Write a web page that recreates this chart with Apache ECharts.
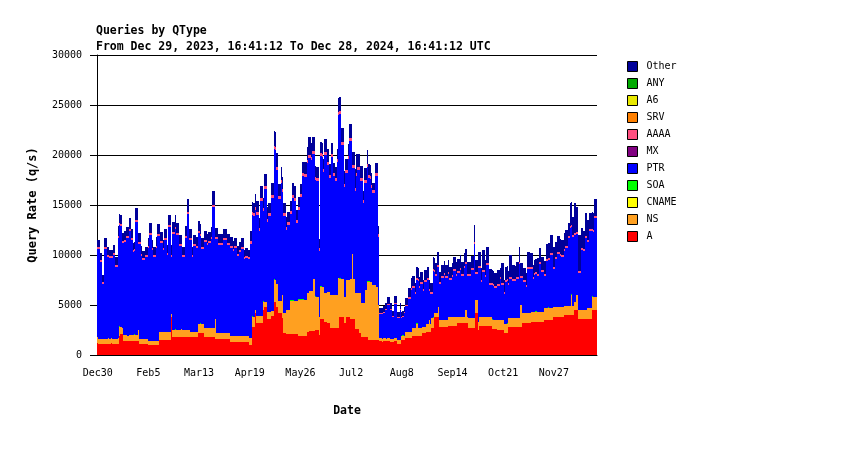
<!DOCTYPE html>
<html>
<head>
<meta charset="utf-8">
<title>Queries by QType</title>
<script src="https://cdn.jsdelivr.net/npm/echarts@6/dist/echarts.min.js"></script>
<style>
  html, body { margin: 0; padding: 0; background: #fff; }
  #chart { width: 850px; height: 450px; }
</style>
</head>
<body>
<div id="chart"></div>
<script>
  // one bar per day, Dec 30 2023 .. Dec 28 2024
  var startDay = Date.UTC(2023, 11, 30);
  var dayCount = 365;
  var tickEvery = 37;

  // query rate per day (q/s)
  var aData = [
    1200,1100,1100,1100,1100,1100,1100,1100,1100,1100,
    1200,1100,1100,1100,1100,1100,1900,2100,2100,1400,
    1400,1400,1400,1400,1400,1400,1400,1400,1400,1400,
    1400,1100,1100,1100,1100,1100,1100,1000,1000,1000,
    1000,1000,1000,1000,1000,1500,1500,1500,1500,1500,
    1500,1500,1500,1500,3800,1800,1800,1800,1800,1800,
    1800,1800,1800,1800,1800,1800,1800,1800,1800,1800,
    1800,1800,1800,1800,2200,2200,2200,2200,1800,1800,
    1800,1800,1800,1800,1800,1800,1600,1600,1600,1600,
    1600,1600,1600,1600,1600,1600,1600,1300,1300,1300,
    1300,1300,1300,1300,1300,1300,1300,1300,1300,1300,
    1300,1000,1000,2800,2800,4200,3200,3200,3200,3200,
    3200,4500,4800,4800,3600,3600,3600,3900,3900,5300,
    5300,4800,4200,4200,4200,3700,2200,2200,2100,2100,
    2100,2100,2100,2100,2100,2100,2100,1900,1900,1900,
    1900,1900,1900,2300,2300,2400,2400,2400,2400,2500,
    2500,2500,2000,3600,3600,3600,3300,3300,3200,3200,
    2700,2700,2700,2700,2700,2700,2700,3800,3800,3800,
    3200,3200,3800,3800,3800,3600,3600,3600,2600,2600,
    2600,2200,2200,1800,1800,1800,1800,1800,1500,1500,
    1500,1500,1500,1500,1500,1500,1400,1400,1300,1400,
    1400,1400,1400,1400,1300,1300,1300,1400,1400,1100,
    1100,1100,1500,1500,1500,1700,1700,1700,1700,1700,
    1900,1900,1900,1900,1900,1900,1900,2200,2200,2200,
    2300,2300,2300,2300,2700,2700,3800,3800,3800,3800,
    2800,2800,2800,2800,2800,2800,2900,2900,2900,2900,
    2900,2900,2900,3200,3200,3200,3200,3200,3200,3200,
    3200,2700,2700,2700,2700,2700,4200,4200,2500,2900,
    2900,2900,2900,2900,2900,2900,2900,2900,2600,2600,
    2600,2600,2500,2500,2500,2500,2500,2200,2200,2200,
    2800,2800,2800,2800,2800,2800,2800,2800,2800,2800,
    3200,3200,3200,3200,3200,3200,3200,3300,3300,3300,
    3300,3300,3300,3300,3300,3300,3500,3500,3500,3500,
    3500,3500,3500,3800,3800,3800,3800,3800,3800,3800,
    3800,4000,4000,4000,4000,4000,4000,4000,4500,4500,
    4500,3600,3600,3600,3600,3600,3600,3600,3600,3600,
    3600,4500,4500,4500,4500
  ];
  var nsData = [
    600,500,500,500,500,500,500,500,600,500,
    500,500,500,500,500,600,900,700,600,600,
    600,600,500,600,600,600,600,600,600,600,
    1100,500,500,500,500,500,500,400,400,400,
    400,400,400,400,400,800,800,800,800,800,
    800,800,800,800,300,700,700,700,700,700,
    700,800,700,700,700,700,700,700,500,500,
    500,500,500,500,900,900,900,900,900,900,
    900,900,900,900,900,900,2000,600,600,600,
    600,600,600,600,600,600,600,600,600,600,
    600,600,600,600,600,600,600,600,600,600,
    600,700,700,1000,1000,300,700,700,700,700,
    700,800,500,500,700,700,700,500,500,2200,
    2200,2300,1200,1200,1200,2300,2000,2000,2400,2400,
    2400,3300,3300,3300,3300,3300,3300,3600,3600,3600,
    3600,3600,3600,3900,3900,4000,4000,4000,5200,3300,
    3300,3300,1800,3200,3200,3200,2900,2900,3100,3100,
    3300,3300,3300,3300,3300,3300,5000,3800,3800,3800,
    2600,2600,3700,3700,3700,4000,6500,4000,3600,3600,
    3600,4000,4000,3400,3400,3400,4700,5500,5800,5800,
    5800,5500,5500,5500,5300,3500,300,300,300,300,
    300,200,300,300,300,300,300,300,300,400,
    400,400,400,400,400,600,600,600,600,600,
    800,800,800,1200,800,800,800,600,600,600,
    800,800,1200,800,1000,1000,400,400,400,1000,
    700,700,700,700,700,700,900,900,900,900,
    900,900,900,600,600,600,600,600,600,1300,
    600,1000,1000,1000,1000,1000,1300,1300,800,900,
    900,900,900,900,900,900,900,900,900,900,
    900,900,1000,1000,1000,1000,1000,900,900,900,
    900,900,900,900,900,900,900,900,900,2200,
    1000,1000,1000,1000,1000,1000,1000,1000,1000,1000,
    1000,1000,1000,1000,1000,1000,1200,1200,1200,1200,
    1200,1200,1200,1000,1000,1000,1000,1000,1000,1000,
    1000,900,900,900,900,900,2000,900,800,800,
    1500,900,900,900,900,900,900,900,1100,1100,
    1100,1300,1300,1300,1300
  ];
  var soaData = [
    0,0,0,0,0,0,0,0,0,0,
    0,0,0,0,0,0,100,0,0,0,
    0,0,0,0,0,0,0,100,0,0,
    0,0,0,0,0,0,0,0,0,0,
    0,0,0,0,0,0,0,0,0,0,
    0,0,0,0,0,0,0,100,0,0,
    0,0,0,0,0,0,0,0,0,0,
    0,0,0,0,0,100,0,0,0,0,
    0,0,0,0,0,0,0,0,0,0,
    0,0,0,0,0,0,0,0,0,0,
    0,0,0,0,0,0,0,0,0,0,
    0,0,0,100,0,0,0,0,0,0,
    0,100,0,0,0,0,0,0,0,100,
    0,0,0,0,0,0,0,0,0,0,
    0,100,100,100,0,0,0,100,100,100,
    100,0,0,0,0,0,0,0,0,100,
    0,0,0,100,0,0,0,0,0,0,
    0,0,0,0,0,0,0,100,0,0,
    0,0,0,0,0,0,0,0,0,0,
    0,0,0,0,0,0,0,100,100,0,
    0,0,0,0,0,0,0,0,0,0,
    0,0,0,0,0,0,0,0,0,0,
    0,0,0,100,0,0,0,0,0,0,
    0,0,0,100,0,0,0,0,0,0,
    0,0,0,0,0,100,0,0,0,0,
    0,0,0,0,0,0,0,0,0,0,
    0,0,0,0,0,0,0,0,0,0,
    0,0,0,0,0,0,0,0,0,0,
    0,0,0,0,0,0,0,0,100,0,
    0,0,0,0,0,0,0,0,0,100,
    0,0,0,0,0,0,0,0,0,0,
    0,0,0,0,0,0,0,0,0,0,
    100,0,0,0,0,0,0,0,0,100,
    0,0,0,0,0,0,0,0,0,0,
    0,0,0,0,0,0,100,0,0,0,
    0,0,0,0,0,0,0,0,0,0,
    0,100,0,0,0
  ];
  var ptrData = [
    8800,9000,7700,7700,5500,9000,9000,8200,8100,8100,
    8000,8100,8400,7200,7200,10000,10100,10100,8500,9200,
    9300,9700,9800,10400,10400,9500,8300,8300,11300,11300,
    8600,9500,8300,7900,7900,8200,8200,9300,10600,10600,
    9100,8400,8400,9300,10500,9600,8900,8900,8200,9200,
    9200,7700,10500,10500,5700,9600,9600,10000,9500,9500,
    8400,8300,7300,7300,9200,9200,11600,9000,9200,7500,
    8600,8600,8400,8400,9100,8700,7500,7500,8600,8600,
    8300,8500,8500,8900,12100,12100,8000,9400,8800,8800,
    8800,8800,9300,9300,9300,8800,8800,8800,8800,8500,
    8800,8800,8000,8000,8400,8700,8700,7700,7800,7800,
    7700,7900,9400,10100,10100,10000,10100,10100,8500,11500,
    11500,9000,11300,11300,9000,9600,9600,11300,11300,13000,
    13000,11400,10200,10200,11800,10300,9700,9700,8000,8500,
    8500,8600,10200,10200,10000,7800,7800,8900,10200,10200,
    12300,12300,12300,13000,13500,13300,13100,13700,12500,11600,
    11600,11600,6600,13000,13000,11500,13800,13800,12700,11400,
    11700,13800,11900,11900,11400,13300,16300,16400,13400,13400,
    11000,12400,10700,12100,13900,13800,8600,11100,10200,11700,
    12300,12300,11200,12200,10000,12000,10700,11400,10300,10300,
    9400,9200,9200,10900,11100,6800,2400,2400,2500,2500,
    2800,2900,3300,3300,2900,2200,2200,3400,3400,2200,
    2200,3000,1800,1800,2300,2600,2600,3300,3300,4200,
    4000,4000,3400,4300,4700,4000,4400,4300,3600,4500,
    4200,4400,2900,3000,2400,4600,4100,3700,4600,4000,
    3600,4200,4200,4500,4200,4200,4300,3700,3700,4000,
    4600,4600,4100,4400,4400,4700,4100,4100,4900,4600,
    4100,4200,4200,4800,4800,7400,2600,2600,5400,4900,
    3500,4500,4500,4000,5200,5200,3200,3200,3400,3400,
    3200,3200,3400,3400,4100,3500,3500,3000,4200,4200,
    3300,3900,3900,3700,3700,3700,3900,3900,5400,2700,
    3500,3100,3100,2600,4400,4400,4400,4300,3300,3700,
    3700,3600,3600,4800,4000,4000,3200,3200,4700,4700,
    4800,5300,5300,3800,4800,4800,5300,5300,5100,5000,
    5000,5500,5800,5800,6800,7800,6700,6900,6700,6700,
    6100,3700,3700,6000,6000,5900,7200,7200,6600,7700,
    7700,6500,6500,7900,7900
  ];
  var aaaaData = [
    200,200,200,200,200,200,200,200,200,200,
    200,200,200,200,200,200,200,200,200,200,
    200,200,200,200,200,200,200,200,200,200,
    200,200,200,200,200,200,200,200,200,200,
    200,200,200,200,200,200,200,200,200,200,
    200,200,200,200,200,200,200,200,200,200,
    200,200,200,200,200,200,200,200,200,200,
    200,200,200,200,200,200,200,200,200,200,
    200,200,200,200,200,200,200,200,200,200,
    200,200,200,200,200,200,200,200,200,200,
    200,200,200,200,200,200,200,200,200,200,
    200,200,300,300,300,300,300,300,300,300,
    300,300,300,300,300,300,300,300,300,300,
    300,300,300,300,300,300,300,300,300,300,
    300,300,300,300,300,300,300,300,300,300,
    300,300,300,300,300,300,300,300,300,300,
    300,300,300,300,300,300,300,300,300,300,
    300,300,300,300,300,300,300,300,300,300,
    300,300,300,300,300,300,300,300,300,300,
    300,300,300,300,300,300,300,300,300,300,
    300,300,300,300,300,300,100,100,100,100,
    100,100,100,100,100,100,100,100,100,100,
    100,100,100,100,100,100,100,200,200,200,
    200,200,200,200,200,200,200,200,200,200,
    200,200,200,200,200,200,200,200,200,200,
    200,200,200,200,200,200,200,200,200,200,
    200,200,200,200,200,200,200,200,200,200,
    200,200,200,200,200,200,200,200,200,200,
    200,200,200,200,200,200,200,200,200,200,
    200,200,200,200,200,200,200,200,200,200,
    200,200,200,200,200,200,200,200,200,200,
    200,200,200,200,200,200,200,200,200,200,
    200,200,200,200,200,200,200,200,200,200,
    200,200,200,200,200,200,200,200,200,200,
    200,200,200,200,200,200,200,200,200,200,
    200,200,200,200,200,200,200,200,200,200,
    200,200,200,200,200
  ];
  var otherData = [
    700,700,700,700,700,900,900,800,800,600,
    600,600,800,800,800,1000,900,900,800,800,
    900,900,900,1100,1100,900,700,700,1200,1200,
    900,900,800,700,700,800,800,800,1000,1000,
    800,800,800,900,1000,1000,900,900,800,900,
    900,800,1000,1000,1000,1000,1000,1200,1000,1000,
    900,900,800,800,1000,1000,1300,900,900,800,
    900,900,900,900,1000,1000,900,900,900,900,
    900,900,900,1000,1400,1400,900,900,900,900,
    900,900,900,900,900,900,900,900,900,800,
    800,800,800,800,800,900,900,700,800,800,
    700,700,1000,1000,1000,1300,1100,1100,1000,1200,
    1200,1000,1200,1200,1200,1000,1000,1200,1200,1500,
    1500,1400,1200,1200,1300,1200,1000,1000,1000,1000,
    1000,1000,1200,1200,1200,1000,1000,1000,1000,1000,
    1100,1200,1200,1300,1800,1800,1400,1400,1400,1100,
    1100,1100,900,1100,1100,1000,1300,1300,1300,1100,
    1100,1100,1000,1000,1100,1000,1400,1400,1400,1400,
    1300,1100,1100,1200,1400,1400,1300,1300,1900,1900,
    1300,1300,1200,1200,900,1200,1200,1400,1100,1100,
    1200,700,700,1000,1000,800,500,500,500,600,
    600,600,700,700,600,500,500,700,700,500,
    500,600,500,500,500,700,700,900,900,1000,
    1000,1000,900,1100,1100,900,1000,1000,900,1000,
    1000,1100,900,900,900,1200,1200,1100,1300,1300,
    1000,1100,1100,1200,1100,1100,1200,1100,1100,1200,
    1200,1200,1200,1200,1200,1300,1200,1200,1300,1300,
    1200,1200,1200,1200,1200,1700,1200,1200,1400,1400,
    1200,2000,2000,1500,1600,1600,1400,1400,1300,1300,
    1300,1300,1400,1400,900,2000,2000,1200,1300,1300,
    1200,2200,2200,1400,1400,1300,1500,1500,1500,1300,
    1300,1200,1200,1200,1500,1500,1400,1400,1200,1300,
    1300,1600,1600,1400,1300,1300,1300,1300,1500,1500,
    1500,1800,1800,2000,1500,1500,1600,1600,1500,1500,
    1500,1600,1600,1600,1300,2300,2300,1800,3000,3000,
    2500,3600,3600,2000,2000,1800,2300,2300,2000,1600,
    1600,1700,1700,1700,1700
  ];

  var monthNames = ['Jan','Feb','Mar','Apr','May','Jun','Jul','Aug','Sep','Oct','Nov','Dec'];
  var days = [];
  for (var i = 0; i < dayCount; i++) {
    var d = new Date(startDay + i * 86400000);
    days.push(monthNames[d.getUTCMonth()] + d.getUTCDate());
  }

  var mono = '"DejaVu Sans Mono", monospace';
  var showTick = function (index) { return index % tickEvery === 0; };

  // stacking order, bottom to top
  var layers = [
    { name: 'A', color: '#ff0000', data: aData },
    { name: 'NS', color: '#ffa020', data: nsData },
    { name: 'CNAME', color: '#ffff00', data: [] },
    { name: 'SOA', color: '#00ff00', data: soaData },
    { name: 'PTR', color: '#0000ff', data: ptrData },
    { name: 'MX', color: '#800080', data: [] },
    { name: 'AAAA', color: '#ff4f80', data: aaaaData },
    { name: 'SRV', color: '#ff8000', data: [] },
    { name: 'A6', color: '#e8e800', data: [] },
    { name: 'ANY', color: '#00aa00', data: [] },
    { name: 'Other', color: '#000099', data: otherData }
  ];

  // stacked bars drawn as pixel-snapped rects so neighbouring days leave no seams
  function stackedLayer(layer, base) {
    var rows = layer.data.map(function (v, i) { return [i, base[i], base[i] + v]; });
    return {
      name: layer.name,
      type: 'custom',
      data: rows,
      encode: { x: 0, y: [1, 2] },
      itemStyle: { color: layer.color },
      silent: true,
      renderItem: function (params, api) {
        var idx = api.value(0);
        var lo = api.coord([idx, api.value(1)]);
        var hi = api.coord([idx, api.value(2)]);
        var band = api.size([1, 0])[0];
        var x0 = Math.round(lo[0] - band / 2);
        var x1 = Math.round(lo[0] + band / 2);
        var y0 = Math.round(lo[1]);
        var y1 = Math.round(hi[1]);
        if (y0 - y1 <= 0 || x1 <= x0) {
          return { type: 'group', children: [] };
        }
        return {
          type: 'rect',
          shape: { x: x0, y: y1, width: x1 - x0, height: y0 - y1 },
          style: { fill: layer.color }
        };
      }
    };
  }

  var running = [];
  for (var j = 0; j < dayCount; j++) running.push(0);
  var series = [];
  layers.forEach(function (l) {
    series.push(stackedLayer(l, running.slice()));
    l.data.forEach(function (v, k) { running[k] += v; });
  });

  var chart = echarts.init(document.getElementById('chart'), null, { renderer: 'canvas' });
  chart.setOption({
    animation: false,
    backgroundColor: '#ffffff',
    color: layers.map(function (l) { return l.color; }),
    title: [{
      text: 'Queries by QType',
      left: 96, top: 25, padding: 0,
      textStyle: { fontFamily: mono, fontSize: 11.5, fontWeight: 'bold', color: '#000' }
    }, {
      text: 'From Dec 29, 2023, 16:41:12 To Dec 28, 2024, 16:41:12 UTC',
      left: 96, top: 41, padding: 0,
      textStyle: { fontFamily: mono, fontSize: 11.5, fontWeight: 'bold', color: '#000' }
    }],
    legend: {
      orient: 'vertical',
      left: 627, top: 61,
      padding: 0,
      itemWidth: 10, itemHeight: 10, itemGap: 6,
      icon: 'rect',
      selectedMode: false,
      itemStyle: { borderColor: '#000', borderWidth: 1 },
      textStyle: { fontFamily: mono, fontSize: 10, color: '#000', padding: [0, 0, 0, 4] },
      data: ['Other', 'ANY', 'A6', 'SRV', 'AAAA', 'MX', 'PTR', 'SOA', 'CNAME', 'NS', 'A']
    },
    grid: { left: 97, right: 253, top: 55, bottom: 95, containLabel: false },
    xAxis: {
      type: 'category',
      data: days,
      boundaryGap: true,
      name: 'Date',
      nameLocation: 'middle',
      nameGap: 50,
      nameTextStyle: { fontFamily: mono, fontSize: 11.5, fontWeight: 'bold', color: '#000' },
      axisLine: { lineStyle: { color: '#000', width: 1 } },
      axisTick: { interval: showTick, length: 5, lineStyle: { color: '#000' } },
      axisLabel: { interval: showTick, fontFamily: mono, fontSize: 10, color: '#000', margin: 13 },
      splitLine: { show: false }
    },
    yAxis: {
      type: 'value',
      min: 0, max: 30000, interval: 5000,
      name: 'Query Rate (q/s)',
      nameLocation: 'middle',
      nameGap: 58,
      nameTextStyle: { fontFamily: mono, fontSize: 12, fontWeight: 'bold', color: '#000' },
      axisLine: { show: true, lineStyle: { color: '#000', width: 1 } },
      axisTick: { show: true, length: 7, lineStyle: { color: '#000' } },
      axisLabel: {
        fontFamily: mono, fontSize: 10, color: '#000', margin: 15,
        formatter: function (v) { return String(v); }
      },
      splitLine: { show: true, lineStyle: { color: '#000', width: 1 } }
    },
    series: series
  });
</script>
</body>
</html>
